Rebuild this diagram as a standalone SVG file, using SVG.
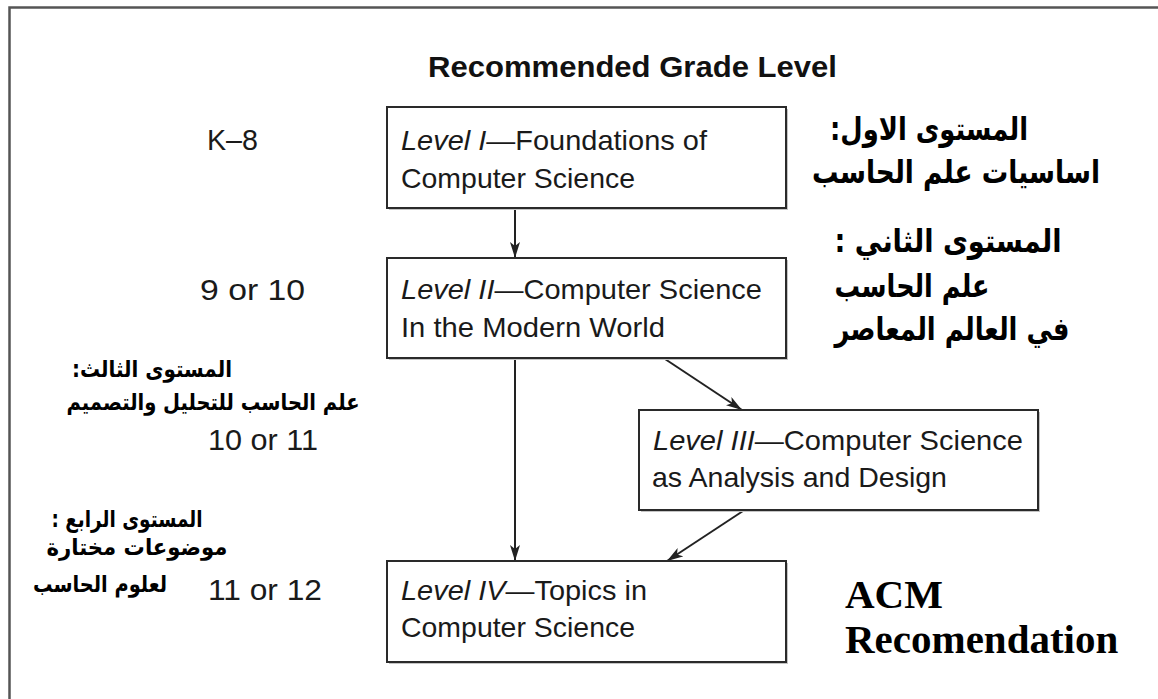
<svg xmlns="http://www.w3.org/2000/svg" width="1158" height="699" viewBox="0 0 1158 699">
<style>
.frame{fill:none;stroke:#555;stroke-width:2.5}
.box{fill:#fff;stroke:#2a2a2a;stroke-width:2}
.shadow{fill:#c4c4c4}
.t{font-family:"Liberation Sans",Arial,sans-serif;font-size:28px;fill:#1a1a1a}
.g{font-family:"Liberation Sans",Arial,sans-serif;font-size:30px;fill:#1a1a1a}
.i{font-style:italic}
.title{font-family:"Liberation Sans",Arial,sans-serif;font-size:30px;font-weight:bold;fill:#111}
.ar{font-family:"DejaVu Sans","Noto Sans",sans-serif;font-weight:bold;fill:#000;direction:rtl;unicode-bidi:embed;text-anchor:middle}
.arR{font-size:32px}
.arL{font-size:23px}
.acm{font-family:"Liberation Serif","Times New Roman",serif;font-size:41px;font-weight:bold;fill:#000}
.conn{stroke:#222;stroke-width:2;fill:none;marker-end:url(#ah)}
</style>
<defs>
<marker id="ah" viewBox="0 0 16 10" refX="16" refY="5" markerWidth="16" markerHeight="10" markerUnits="userSpaceOnUse" orient="auto">
<path d="M0,0 L16,5 L0,10 L4,5 Z" fill="#222"/>
</marker>
</defs>
<rect width="1158" height="699" fill="#fff"/>
<path class="frame" d="M9.5,699 V7.5 H1158"/>
<text class="title" x="428" y="77" textLength="409" lengthAdjust="spacingAndGlyphs">Recommended Grade Level</text>

<g id="grades">
<text class="g" x="207" y="150" textLength="51" lengthAdjust="spacingAndGlyphs">K–8</text>
<text class="g" x="200" y="300" textLength="105" lengthAdjust="spacingAndGlyphs">9 or 10</text>
<text class="g" x="208" y="450" textLength="110" lengthAdjust="spacingAndGlyphs">10 or 11</text>
<text class="g" x="208" y="600" textLength="114" lengthAdjust="spacingAndGlyphs">11 or 12</text>
</g>

<g id="connectors">
<path class="conn" d="M515,209 V258"/>
<path class="conn" d="M515,359 V561"/>
<path class="conn" d="M665,359 L742,410"/>
<path class="conn" d="M743,511 L667,561"/>
</g>

<g id="level1">
<rect class="shadow" x="389" y="109" width="399" height="101"/>
<rect class="box" x="387" y="107" width="399" height="101"/>
<text class="t" x="401" y="150" textLength="306" lengthAdjust="spacingAndGlyphs"><tspan class="i">Level I</tspan>—Foundations of</text>
<text class="t" x="401" y="188" textLength="234" lengthAdjust="spacingAndGlyphs">Computer Science</text>
</g>

<g id="level2">
<rect class="shadow" x="389" y="260" width="399" height="100"/>
<rect class="box" x="387" y="258" width="399" height="100"/>
<text class="t" x="401" y="299" textLength="361" lengthAdjust="spacingAndGlyphs"><tspan class="i">Level II</tspan>—Computer Science</text>
<text class="t" x="401" y="337" textLength="264" lengthAdjust="spacingAndGlyphs">In the Modern World</text>
</g>

<g id="level3">
<rect class="shadow" x="641" y="412" width="399" height="100"/>
<rect class="box" x="639" y="410" width="399" height="100"/>
<text class="t" x="653" y="450" textLength="370" lengthAdjust="spacingAndGlyphs"><tspan class="i">Level III</tspan>—Computer Science</text>
<text class="t" x="652" y="487" textLength="295" lengthAdjust="spacingAndGlyphs">as Analysis and Design</text>
</g>

<g id="level4">
<rect class="shadow" x="389" y="563" width="399" height="101"/>
<rect class="box" x="387" y="561" width="399" height="101"/>
<text class="t" x="401" y="600" textLength="246" lengthAdjust="spacingAndGlyphs"><tspan class="i">Level IV</tspan>—Topics in</text>
<text class="t" x="401" y="637" textLength="234" lengthAdjust="spacingAndGlyphs">Computer Science</text>
</g>

<g id="arabic-right">
<text class="ar arR" x="929" y="140" textLength="198" lengthAdjust="spacingAndGlyphs">المستوى الاول:</text>
<text class="ar arR" x="956" y="183" textLength="288" lengthAdjust="spacingAndGlyphs">اساسيات علم الحاسب</text>
<text class="ar arR" x="948" y="252" textLength="227" lengthAdjust="spacingAndGlyphs">المستوى الثاني :</text>
<text class="ar arR" x="912" y="297" textLength="155" lengthAdjust="spacingAndGlyphs">علم الحاسب</text>
<text class="ar arR" x="952" y="340" textLength="235" lengthAdjust="spacingAndGlyphs">في العالم المعاصر</text>
</g>

<g id="arabic-left">
<text class="ar arL" x="152" y="377" textLength="160" lengthAdjust="spacingAndGlyphs">المستوى الثالث:</text>
<text class="ar arL" x="213" y="410" textLength="293" lengthAdjust="spacingAndGlyphs">علم الحاسب للتحليل والتصميم</text>
<text class="ar arL" x="127" y="527" textLength="151" lengthAdjust="spacingAndGlyphs">المستوى الرابع :</text>
<text class="ar arL" x="137" y="555" textLength="181" lengthAdjust="spacingAndGlyphs">موضوعات مختارة</text>
<text class="ar arL" x="100" y="592" textLength="134" lengthAdjust="spacingAndGlyphs">لعلوم الحاسب</text>
</g>

<g id="acm">
<text class="acm" x="845" y="608">ACM</text>
<text class="acm" x="845" y="653">Recomendation</text>
</g>
</svg>
